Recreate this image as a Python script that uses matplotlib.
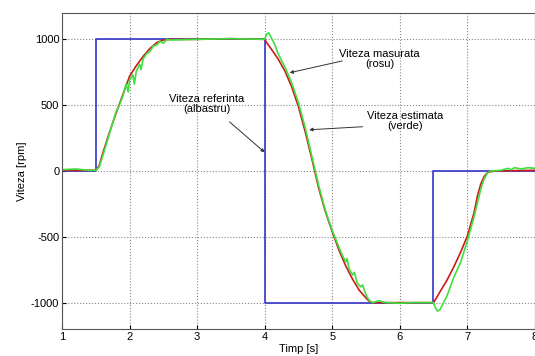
import matplotlib.pyplot as plt

plt.rcParams['font.family'] = ['Liberation Sans', 'DejaVu Sans']
plt.rcParams['axes.unicode_minus'] = False

# referinta (albastru)
t_ref = [1.0, 1.5, 1.5, 4.0, 4.0, 6.5, 6.5, 8.0]
v_ref = [0, 0, 1000, 1000, -1000, -1000, 0, 0]

# masurata (rosu)
t_mas = [1.0, 1.5, 1.55, 1.6, 1.7, 1.8, 1.9, 2.0, 2.1, 2.2, 2.3, 2.4, 2.5, 2.6, 3.0, 3.5, 4.0,
         4.05, 4.1, 4.2, 4.3, 4.4, 4.5, 4.6, 4.7, 4.8, 4.9, 5.0, 5.1, 5.2, 5.3, 5.4, 5.5, 5.55, 5.6,
         6.0, 6.5, 6.55, 6.6, 6.7, 6.8, 6.9, 7.0, 7.1, 7.15, 7.2, 7.25, 7.3, 7.4, 8.0]
v_mas = [5, 5, 40, 130, 290, 440, 580, 720, 800, 870, 930, 975, 995, 1000, 1000, 1005, 1000,
         960, 925, 850, 760, 640, 490, 300, 90, -130, -310, -460, -600, -720, -820, -905, -965, -990, -1000,
         -1000, -1000, -960, -915, -830, -730, -620, -497, -320, -194, -100, -43, -12, 0, 5]

# estimata (verde)
t_est = [1.0, 1.2, 1.4, 1.5, 1.55, 1.6, 1.7, 1.8, 1.85, 1.9, 1.95, 1.98, 2.0, 2.05, 2.07, 2.1, 2.15,
         2.17, 2.2, 2.25, 2.3, 2.35, 2.4, 2.45, 2.5, 2.55, 2.6, 3.0, 3.5, 4.0,
         4.03, 4.06, 4.1, 4.15, 4.2, 4.3, 4.4, 4.5, 4.6, 4.7, 4.8, 4.9, 5.0, 5.1, 5.15, 5.2, 5.22,
         5.25, 5.3, 5.33, 5.37, 5.42, 5.45, 5.5, 5.55, 5.6, 5.7, 5.75, 5.8, 6.0, 6.2, 6.5,
         6.53, 6.56, 6.6, 6.65, 6.7, 6.8, 6.9, 7.0, 7.1, 7.15, 7.2, 7.25, 7.3, 7.35, 7.5, 7.6,
         7.65, 7.7, 7.8, 7.9, 8.0]
v_est = [10, 15, 5, 5, 30, 110, 280, 450, 500, 570, 660, 600, 690, 730, 660, 760, 810,
         770, 850, 890, 905, 950, 955, 985, 970, 1000, 995, 1000, 1005, 1000,
         1040, 1050, 1010, 960, 890, 790, 670, 520, 330, 110, -110, -300, -450, -580, -640, -690, -665,
         -740, -790, -770, -850, -880, -865, -940, -985, -1000, -985, -995, -1000, -1005, -1000, -1000,
         -1040, -1065, -1050, -1000, -950, -810, -697, -535, -350, -245, -140, -60, -15, 0, 5, 20,
         10, 25, 15, 25, 20]

fig = plt.figure(figsize=(5.35, 3.56), dpi=100)
ax = fig.add_axes([0.116, 0.076, 0.8835, 0.8875])

ax.plot(t_ref, v_ref, color='#3535c8', linewidth=1.2)
ax.plot(t_mas, v_mas, color='#cc1a1a', linewidth=1.2)
ax.plot(t_est, v_est, color='#3ee03e', linewidth=1.2)

ax.set_xlim(1, 8)
ax.set_ylim(-1200, 1200)
ax.set_xticks([1, 2, 3, 4, 5, 6, 7, 8])
ax.set_yticks([-1000, -500, 0, 500, 1000])
ax.grid(True, linestyle=':', color='#888888', linewidth=0.8)
ax.tick_params(direction='in', length=3, labelsize=8, pad=2)
for s in ax.spines.values():
    s.set_color('#555555')
    s.set_linewidth(0.8)

ax.set_xlabel('Timp [s]', fontsize=8, labelpad=2)
ax.set_ylabel('Viteza [rpm]', fontsize=8, labelpad=3)

arr = dict(arrowstyle='-|>', color='#333333', linewidth=0.7, mutation_scale=5, shrinkA=0, shrinkB=0)
ax.text(3.14, 508, 'Viteza referinta\n(albastru)', fontsize=8, ha='center', va='center',
        linespacing=1.1)
ax.annotate('', xy=(4.0, 142), xytext=(3.48, 373), arrowprops=arr)
ax.text(5.7, 851, 'Viteza masurata\n(rosu)', fontsize=8, ha='center', va='center',
        linespacing=1.1)
ax.annotate('', xy=(4.37, 746), xytext=(5.15, 836), arrowprops=arr)
ax.text(6.08, 380, 'Viteza estimata\n(verde)', fontsize=8, ha='center', va='center',
        linespacing=1.1)
ax.annotate('', xy=(4.66, 313), xytext=(5.45, 336), arrowprops=arr)

fig.savefig('out.png', dpi=100)
